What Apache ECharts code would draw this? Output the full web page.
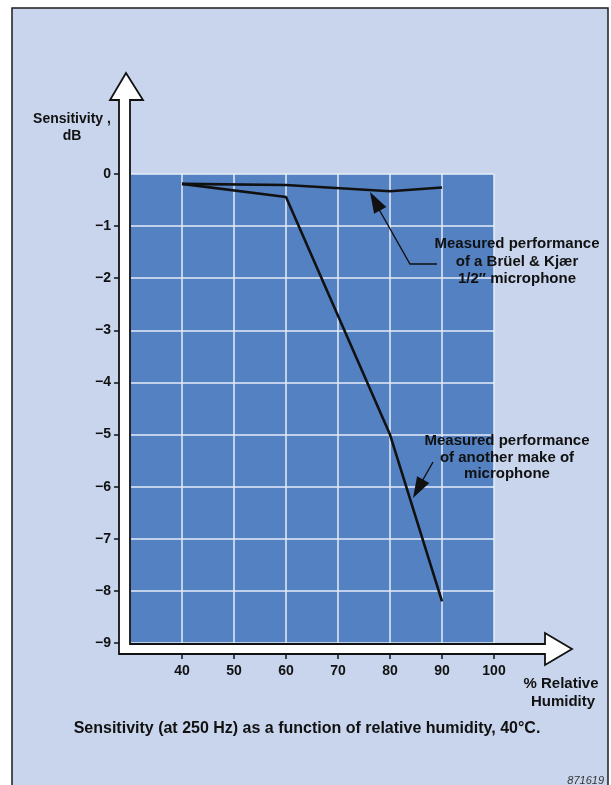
<!DOCTYPE html>
<html><head><meta charset="utf-8">
<script src="https://cdn.jsdelivr.net/npm/echarts@6/dist/echarts.min.js"></script>
<style>html,body{margin:0;padding:0;background:#fff}#c{width:611px;height:785px}</style>
</head><body><div id="c"></div>
<script>
// ---- data ----
const bkHumidity = [40, 60, 80, 90];
const bkSensitivity = [-0.19, -0.21, -0.33, -0.26];
const otherHumidity = [40, 60, 80, 90];
const otherSensitivity = [-0.19, -0.44, -5.0, -8.2];
const xTickValues = [40, 50, 60, 70, 80, 90, 100];
const yTickValues = [0, -1, -2, -3, -4, -5, -6, -7, -8, -9];
const bkLabel = ['Measured performance', 'of a Brüel & Kjær', '1/2\u2033 microphone'];
const otherLabel = ['Measured performance', 'of another make of', 'microphone'];
const yAxisTitle = ['Sensitivity ,', 'dB'];
const xAxisTitle = ['% Relative', 'Humidity'];
const caption = 'Sensitivity (at 250 Hz) as a function of relative humidity, 40\u00b0C.';
const figCode = '871619';

const FONT = '"Liberation Sans", Arial, Helvetica, sans-serif';
const INK = '#111';
const BG = '#c8d5ec';
const chart = echarts.init(document.getElementById('c'), null, {renderer: 'canvas'});

const zip = (a, b) => a.map((v, i) => [v, b[i]]);

chart.setOption({
  animation: false,
  backgroundColor: '#ffffff',
  grid: {left: 130, right: 117, top: 174, bottom: 142, show: true,
         backgroundColor: '#5381c1', borderWidth: 0},
  xAxis: {
    type: 'value', min: 30, max: 100, interval: 10, offset: 11, position: 'bottom',
    axisLine: {show: false, onZero: false},
    axisTick: {show: true, length: 5, lineStyle: {color: INK, width: 1.5}},
    axisLabel: {margin: 10, color: INK, fontFamily: FONT, fontWeight: 'bold', fontSize: 14,
                formatter: v => (xTickValues.indexOf(v) >= 0 ? String(v) : '')},
    splitLine: {show: true, lineStyle: {color: '#e6edf7', width: 1.5}}
  },
  yAxis: {
    type: 'value', min: -9, max: 0, interval: 1, offset: 11, position: 'left',
    axisLine: {show: false, onZero: false},
    axisTick: {show: true, length: 5, lineStyle: {color: INK, width: 1.5}},
    axisLabel: {margin: 8, color: INK, fontFamily: FONT, fontWeight: 'bold', fontSize: 14,
                formatter: v => (yTickValues.indexOf(v) < 0 ? '' : v < 0 ? '\u2212' + (-v) : '0')},
    splitLine: {show: true, lineStyle: {color: '#e6edf7', width: 1.5}}
  },
  series: [
    {type: 'line', data: zip(bkHumidity, bkSensitivity), symbol: 'none', z: 5,
     lineStyle: {color: INK, width: 2.6}},
    {type: 'line', data: zip(otherHumidity, otherSensitivity), symbol: 'none', z: 5,
     lineStyle: {color: INK, width: 2.6}}
  ]
});

function arrowHead(tip, from, len, half) {
  const dx = tip[0] - from[0], dy = tip[1] - from[1];
  const L = Math.hypot(dx, dy), ux = dx / L, uy = dy / L;
  const bx = tip[0] - ux * len, by = tip[1] - uy * len;
  return [tip, [bx - uy * half, by + ux * half], [bx + uy * half, by - ux * half]];
}

function decorate() {
  const o = chart.convertToPixel({gridIndex: 0}, [30, -9]);   // plot bottom-left
  const t = chart.convertToPixel({gridIndex: 0}, [100, 0]);   // plot top-right
  const x0 = o[0], yb = o[1];
  // L-shaped white axis arrows
  const axisPoly = [
    [x0 - 4, 73], [x0 + 13, 100], [x0, 100], [x0, yb + 1],
    [t[0] + 51, yb + 1], [t[0] + 51, yb - 10], [t[0] + 78, yb + 6], [t[0] + 51, yb + 22],
    [t[0] + 51, yb + 11], [x0 - 11, yb + 11], [x0 - 11, 100], [x0 - 20, 100]
  ];
  const g = [];
  g.push({type: 'rect', z: -10, shape: {x: 12, y: 8, width: 596, height: 800},
          style: {fill: BG, stroke: '#1c1c1c', lineWidth: 1.5}});
  // no tick at the corner (30 %)
  g.push({type: 'rect', z: 45, shape: {x: x0 - 3, y: yb + 9, width: 6, height: 10}, style: {fill: BG}});
  g.push({type: 'polygon', z: 50, shape: {points: axisPoly},
          style: {fill: '#ffffff', stroke: INK, lineWidth: 1.8}});
  const txt = (s, x, y, size, align) => ({
    type: 'text', z: 60,
    style: {text: s, x: x, y: y, font: 'bold ' + size + 'px ' + FONT, fill: INK,
            textAlign: align || 'center', textVerticalAlign: 'middle'}});
  // axis titles
  g.push(txt(yAxisTitle[0], 72, 119, 14));
  g.push(txt(yAxisTitle[1], 72, 136, 14));
  g.push(txt(xAxisTitle[0], 561, 684, 15));
  g.push(txt(xAxisTitle[1], 563, 702, 15));
  // callout 1 (B&K)
  bkLabel.forEach((s, i) => g.push(txt(s, 517, 244 + i * 17.5, 15)));
  const c1 = [[437, 264], [410, 264], [372, 197]];
  g.push({type: 'polyline', z: 60, shape: {points: c1}, style: {stroke: INK, lineWidth: 1.4, fill: null}});
  g.push({type: 'polygon', z: 60, shape: {points: arrowHead([370, 192], [410, 264], 21, 7)}, style: {fill: INK}});
  // callout 2 (other make)
  otherLabel.forEach((s, i) => g.push(txt(s, 507, 441 + i * 16.5, 15)));
  g.push({type: 'line', z: 60, shape: {x1: 433, y1: 462, x2: 416, y2: 492}, style: {stroke: INK, lineWidth: 1.4}});
  g.push({type: 'polygon', z: 60, shape: {points: arrowHead([413, 498], [433, 462], 21, 7)}, style: {fill: INK}});
  // caption and figure code
  g.push(txt(caption, 307, 729, 16));
  g.push({type: 'text', z: 60, style: {text: figCode, x: 604, y: 781, font: 'italic 11px ' + FONT,
          fill: '#333', textAlign: 'right', textVerticalAlign: 'middle'}});
  chart.setOption({graphic: {elements: g}});
}
decorate();
</script>
</body></html>
